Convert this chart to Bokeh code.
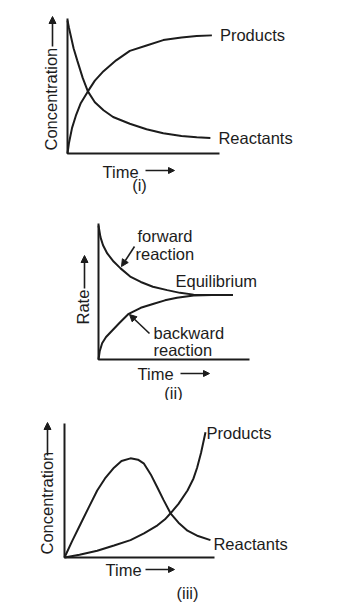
import math
from bokeh.plotting import figure
from bokeh.layouts import column
from bokeh.models import Range1d, Arrow, NormalHead
from bokeh.core.properties import value
from bokeh.embed import file_html
from bokeh.resources import INLINE

# ---------------- data ----------------
T_MAX = 10.0
V_MAX = 1.0

# (i) reversible reaction: concentration vs time
t1_react = [0, 0.1, 0.2, 0.4, 0.64, 1.0, 1.34, 1.8, 2.37, 3.0, 4.1, 5.2, 6.3, 7.5, 8.5, 9.4]
c1_react = [0.985, 0.93, 0.88, 0.78, 0.69, 0.56, 0.46, 0.38, 0.32, 0.27, 0.22, 0.18, 0.15, 0.13, 0.12, 0.115]
t1_prod = [0, 0.1, 0.3, 0.55, 0.86, 1.34, 1.8, 2.37, 3.2, 4.1, 5.2, 6.3, 7.5, 8.5, 9.5]
c1_prod = [0, 0.08, 0.19, 0.28, 0.37, 0.46, 0.54, 0.61, 0.69, 0.76, 0.80, 0.84, 0.86, 0.87, 0.875]

# (ii) rates vs time
t2_fwd = [0, 0.13, 0.3, 0.58, 1.0, 1.46, 2.1, 2.8, 3.6, 4.55, 5.4, 6.3, 7.5, 8.9]
r2_fwd = [0.985, 0.90, 0.84, 0.78, 0.72, 0.67, 0.61, 0.57, 0.535, 0.51, 0.49, 0.477, 0.475, 0.475]
t2_bwd = [0, 0.08, 0.24, 0.5, 0.8, 1.4, 2.0, 2.8, 3.66, 4.4, 5.2, 6.3, 7.5, 8.9]
r2_bwd = [0, 0.06, 0.12, 0.165, 0.20, 0.27, 0.336, 0.38, 0.41, 0.435, 0.454, 0.47, 0.475, 0.475]

# (iii) concentration vs time
t3_react = [0, 0.5, 1.07, 1.6, 2.18, 2.7, 3.3, 3.8, 4.4, 4.9, 5.3, 5.75, 6.2, 6.6, 7.07, 7.6, 8.2, 8.9, 9.73]
c3_react = [0, 0.12, 0.25, 0.37, 0.50, 0.59, 0.67, 0.72, 0.74, 0.73, 0.70, 0.62, 0.52, 0.43, 0.33, 0.26, 0.20, 0.16, 0.13]
t3_prod = [0, 1.0, 2.18, 3.3, 4.4, 5.3, 6.2, 6.7, 7.07, 7.6, 8.2, 8.6, 8.84, 9.1, 9.4]
c3_prod = [0, 0.02, 0.05, 0.09, 0.13, 0.18, 0.24, 0.285, 0.33, 0.40, 0.50, 0.59, 0.67, 0.78, 0.935]

label_products = "Products"
label_reactants = "Reactants"
label_conc = "Concentration"
label_time = "Time"
label_rate = "Rate"
label_fwd = ["forward", "reaction"]
label_bwd = ["backward", "reaction"]
label_eq = "Equilibrium"
captions = ["(i)", "(ii)", "(iii)"]

# ---------------- style ----------------
INK = "#1c1c1c"
FONT = value("Liberation Sans")
FS = "16.5px"
LW = 2

PAGE_W = 344


def panel(top, h, ax_left, ax_right, ax_bottom, ax_top):
    sx = (ax_right - ax_left) / T_MAX
    sy = (ax_bottom - ax_top) / V_MAX
    X = lambda px: (px - ax_left) / sx
    Y = lambda py: (ax_bottom - py) / sy
    p = figure(width=PAGE_W, height=h,
               x_range=Range1d(X(0), X(PAGE_W)),
               y_range=Range1d(Y(top + h), Y(top)),
               output_backend="svg", toolbar_location=None,
               x_axis_location=None, y_axis_location=None,
               min_border=0, outline_line_color=None,
               background_fill_color="white", border_fill_color="white")
    p.xgrid.visible = False
    p.ygrid.visible = False
    # axes as an L-shaped line
    p.line([0, 0, T_MAX], [V_MAX, 0, 0], line_color=INK, line_width=LW)
    return p, X, Y


def txt(p, x, y, s, angle=0.0, align="left", x_off=0, y_off=0, fs=FS):
    p.text(x=[x], y=[y], text=[s], angle=angle, text_align=align,
           text_baseline="middle", text_font=FONT, text_font_size=fs,
           text_color=INK, x_offset=x_off, y_offset=y_off)


def arrow(p, x0, y0, x1, y1, size=7):
    p.add_layout(Arrow(end=NormalHead(size=size, fill_color=INK, line_color=INK, line_width=1),
                       x_start=x0, y_start=y0, x_end=x1, y_end=y1,
                       line_color=INK, line_width=1.6))


# ---------------- panel (i) ----------------
p1, X, Y = panel(0, 200, 67, 219, 153, 18)
p1.line(t1_react, c1_react, line_color=INK, line_width=LW)
p1.line(t1_prod, c1_prod, line_color=INK, line_width=LW)
txt(p1, t1_prod[-1], c1_prod[-1], label_products, x_off=8)
txt(p1, t1_react[-1], c1_react[-1], label_reactants, x_off=8)
txt(p1, X(50), Y(150), label_conc, angle=math.pi / 2)
arrow(p1, X(52), Y(46), X(52), Y(16))
txt(p1, X(102), Y(171), label_time)
arrow(p1, X(145), Y(170), X(174), Y(170), size=6)
txt(p1, X(139), Y(184), captions[0], align="center")

# ---------------- panel (ii) ----------------
p2, X, Y = panel(200, 200, 98, 249, 359, 223)
p2.line(t2_fwd, r2_fwd, line_color=INK, line_width=LW)
p2.line(t2_bwd, r2_bwd, line_color=INK, line_width=LW)
txt(p2, X(137), Y(235), label_fwd[0])
txt(p2, X(135), Y(253), label_fwd[1])
arrow(p2, X(134), Y(246), X(121), Y(266))
txt(p2, X(175), Y(280), label_eq)
txt(p2, X(153), Y(332), label_bwd[0])
txt(p2, X(153), Y(349), label_bwd[1])
arrow(p2, X(149), Y(333), X(129), Y(314))
txt(p2, X(82), Y(324), label_rate, angle=math.pi / 2)
arrow(p2, X(84), Y(288), X(84), Y(255))
txt(p2, X(137), Y(373), label_time)
arrow(p2, X(180), Y(373), X(209), Y(373), size=6)
txt(p2, X(173), Y(392), captions[1], align="center")

# ---------------- panel (iii) ----------------
p3, X, Y = panel(400, 204, 64, 214, 557, 423)
p3.line(t3_react, c3_react, line_color=INK, line_width=LW)
p3.line(t3_prod, c3_prod, line_color=INK, line_width=LW)
txt(p3, t3_prod[-1], c3_prod[-1], label_products, x_off=1, y_off=1)
txt(p3, t3_react[-1], c3_react[-1], label_reactants, x_off=3, y_off=4)
txt(p3, X(46), Y(554), label_conc, angle=math.pi / 2)
arrow(p3, X(47), Y(455), X(47), Y(422))
txt(p3, X(105), Y(569), label_time)
arrow(p3, X(145), Y(569), X(174), Y(569), size=6)
txt(p3, X(187), Y(592), captions[2], align="center")

layout = column(p1, p2, p3, spacing=0)
open("out.html", "w").write(file_html(layout, INLINE))
